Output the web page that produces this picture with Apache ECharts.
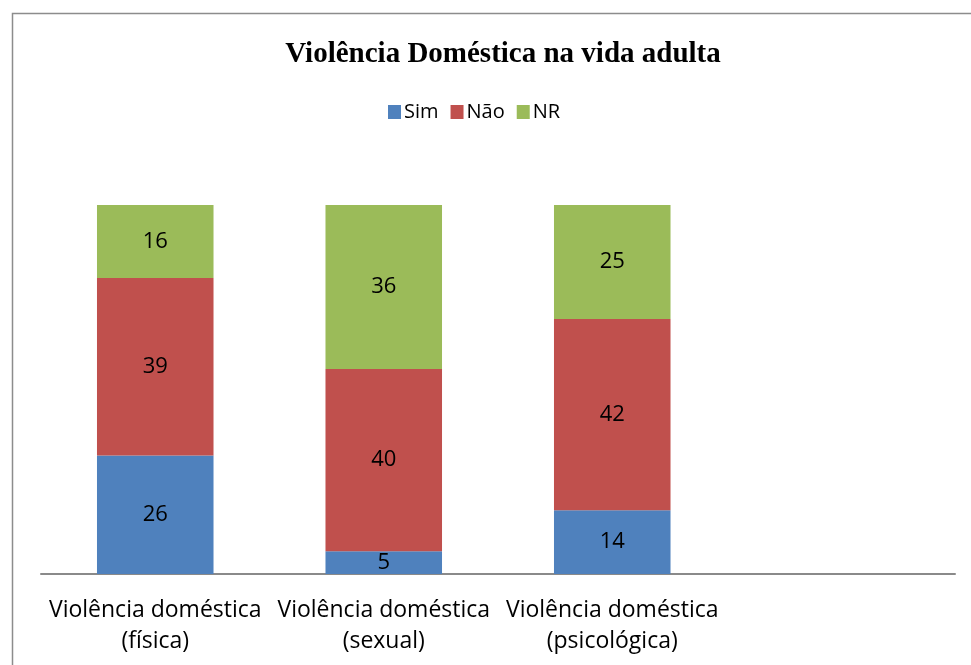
<!DOCTYPE html>
<html>
<head>
<meta charset="utf-8">
<script src="https://cdn.jsdelivr.net/npm/echarts@6/dist/echarts.min.js"></script>
<style>
  html, body { margin: 0; padding: 0; background: #fff; }
  #main { width: 971px; height: 665px; }
</style>
</head>
<body>
<div id="main"></div>
<script>
// dados
var categorias = ['Violência doméstica\n(física)', 'Violência doméstica\n(sexual)', 'Violência doméstica\n(psicológica)', ''];
var sim = [26, 5, 14, null];
var nao = [39, 40, 42, null];
var nr = [16, 36, 25, null];

var fonteTexto = "'Liberation Sans Narrow', 'Open Sans', sans-serif";

var myChart = echarts.init(document.getElementById('main'));

function serie(nome, dados, cor) {
    return {
        name: nome,
        type: 'bar',
        stack: 'total',
        data: dados,
        barWidth: '51%',
        itemStyle: { color: cor },
        label: {
            show: true,
            position: 'inside',
            color: '#000',
            fontSize: 22,
            fontFamily: fonteTexto
        }
    };
}

var option = {
    animation: false,
    title: {
        text: 'Violência Doméstica na vida adulta',
        left: 498,
        textAlign: 'center',
        top: 35,
        textStyle: {
            fontFamily: "'Liberation Serif', serif",
            fontWeight: 'bold',
            fontSize: 29,
            color: '#000'
        }
    },
    legend: {
        left: 383,
        top: 97,
        itemWidth: 13,
        itemHeight: 14,
        itemGap: 12,
        icon: 'rect',
        textStyle: { fontSize: 20, fontFamily: fonteTexto, color: '#000', padding: [0, 0, 0, -2] },
        data: ['Sim', 'Não', 'NR']
    },
    grid: { left: 41, right: 16, top: 205, bottom: 91, containLabel: false },
    xAxis: {
        type: 'category',
        data: categorias,
        axisLine: { lineStyle: { color: '#8a8a8a', width: 2 } },
        axisTick: { show: false },
        axisLabel: {
            interval: 0,
            margin: 21,
            lineHeight: 31,
            fontSize: 23,
            color: '#000',
            fontFamily: fonteTexto
        }
    },
    yAxis: {
        type: 'value',
        min: 0,
        max: 81,
        show: false,
        splitLine: { show: false }
    },
    graphic: [{
        type: 'rect',
        shape: { x: 12.5, y: 13.5, width: 990, height: 700 },
        style: { fill: 'none', stroke: '#8c8c8c', lineWidth: 1.5 },
        silent: true
    }],
    series: [
        serie('Sim', sim, '#4F81BD'),
        serie('Não', nao, '#C0504D'),
        serie('NR', nr, '#9BBB59')
    ]
};

myChart.setOption(option);
</script>
</body>
</html>
